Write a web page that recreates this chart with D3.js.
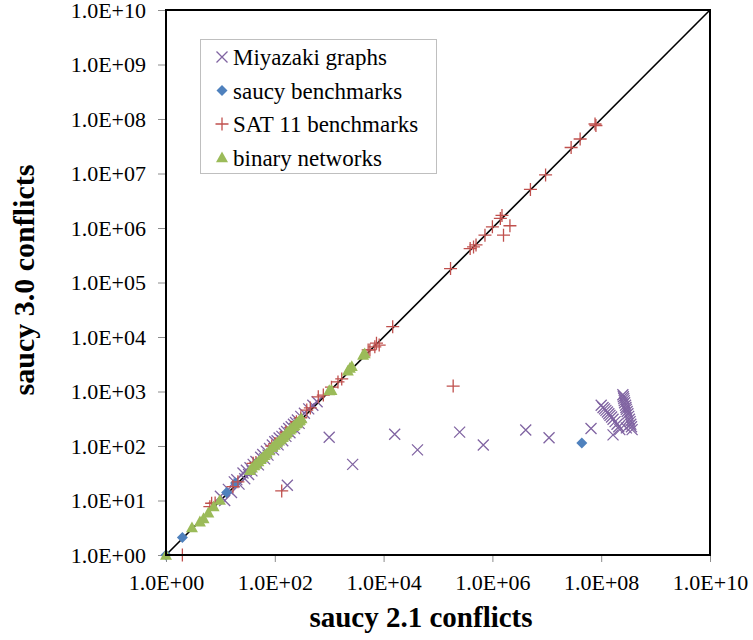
<!DOCTYPE html>
<html><head><meta charset="utf-8">
<script src="https://cdn.jsdelivr.net/npm/d3@7"></script>
<style>body{margin:0;background:#fff}svg{display:block}</style>
</head><body><svg id="c" width="753" height="640"></svg>
<script>
// ---- data ----
const seriesNames = ["Miyazaki graphs", "saucy benchmarks", "SAT 11 benchmarks", "binary networks"];
const xTickValues = [1, 1e2, 1e4, 1e6, 1e8, 1e10];
const yTickValues = [1, 1e1, 1e2, 1e3, 1e4, 1e5, 1e6, 1e7, 1e8, 1e9, 1e10];
const xTitle = "saucy 2.1 conflicts";
const yTitle = "saucy 3.0 conflicts";

const miyazaki = [
  [10,12],[12,10],[14,16],[16,14],[18,22],[20,24],[22,20],[26,32],[28,25],[30,36],[33,30],[35,40],[38,35],[40,46],[45,52],[50,45],[55,62],[60,70],[65,58],[70,80],[75,68],[80,90],[90,104],[95,85],[100,120],[110,125],[115,105],[120,140],[135,150],[140,125],[150,170],[160,150],[165,185],[180,210],[190,175],[200,225],[220,250],[230,210],[240,270],[260,300],[280,260],[300,350],[350,400],[420,480],[500,560],[600,650],
  [170,19],[1.0e3,145],[2.7e3,46],[1.6e4,164],[4.2e4,85],[2.5e5,180],[6.8e5,104],[4.1e6,196],[1.1e7,142],[6.5e7,210],
  [1.0e8,560],[1.08e8,510],[1.15e8,480],[1.22e8,450],[1.3e8,420],[1.38e8,390],[1.45e8,365],[1.55e8,340],[1.65e8,310],[1.8e8,280],[1.95e8,250],[2.1e8,225],[2.2e8,200],[1.65e8,160],
  [2.5e8,870],[2.55e8,800],[2.6e8,740],[2.65e8,680],[2.7e8,620],[2.8e8,560],[2.85e8,510],[2.9e8,470],[3.0e8,430],[3.1e8,390],[3.2e8,350],[3.3e8,310],[3.4e8,280],[3.5e8,250],[3.6e8,225],[3.7e8,200],[2.9e8,215]
];
const saucy = [[1,1],[2,2.1],[13,14],[19,21],[47,50],[4.4e7,114]];
const sat11 = [
  [2,1],[6.4,7.7],[6.9,8.9],[8,9],[17,18],[21,22],[40,48],[45,50],[88,100],[100,110],[130,140],[160,180],[200,220],[250,280],[300,330],[387,457],[450,500],[134,15],
  [630,800],[780,860],[1.1e3,1.2e3],[1.45e3,1.5e3],[1.7e3,1.7e3],[5.2e3,5.8e3],[5.6e3,5.8e3],[6.9e3,6.6e3],[7.4e3,7.7e3],[8.3e3,7.1e3],[1.47e4,1.55e4],[1.9e5,1.26e3],
  [1.7e5,1.8e5],[3.9e5,4.2e5],[4.5e5,4.5e5],[5e5,4.9e5],[7.3e5,7.4e5],[1.0e6,1.05e6],[1.4e6,1.5e6],[1.5e6,1.7e6],[1.6e6,7.4e5],[2.1e6,1.1e6],[5.0e6,5.1e6],[9.5e6,9.4e6],[2.8e7,3.0e7],[4.1e7,4.3e7],[7.7e7,8.1e7],[8e7,7.6e7]
];
const binary = [
  [1,1],[3,3.2],[4.2,4.1],[4.9,4.7],[6,6],[7.5,7.8],[9.8,10.2],[35,36],[38,40],[42,44],[45,47],[50,52],[55,57],[60,62],[65,68],[71,73],[80,83],[90,95],[100,105],[110,115],[120,125],[130,135],[140,145],[150,155],[160,168],[170,180],[190,200],[200,210],[220,230],[230,240],[250,260],[260,270],[280,290],[290,300],[310,320],
  [1.0e3,1.05e3],[1.1e3,1.06e3],[2.2e3,2.4e3],[2.4e3,2.7e3],[2.6e3,2.9e3],[4.2e3,4.7e3],[4.5e3,5e3]
];

// ---- layout ----
const L = 166, R = 710, T = 10, B = 555;
const svg = d3.select("#c");
const x = d3.scaleLog().domain([1, 1e10]).range([L, R]);
const y = d3.scaleLog().domain([1, 1e10]).range([B, T]);
const fmt = v => { const e = Math.round(Math.log10(v)); return "1.0E+" + String(e).padStart(2, "0"); };
const serif = '"Liberation Serif", "Times New Roman", Times, serif';

const gx = svg.append("g").attr("transform", `translate(0,${B})`)
  .call(d3.axisBottom(x).tickValues(xTickValues).tickFormat(fmt).tickSize(7).tickPadding(12));
const gy = svg.append("g").attr("transform", `translate(${L},0)`)
  .call(d3.axisLeft(y).tickValues(yTickValues).tickFormat(fmt).tickSize(8).tickPadding(12));
[gx, gy].forEach(g => {
  g.attr("font-family", serif).attr("font-size", 22);
  g.select(".domain").remove();
  g.selectAll(".tick line").attr("stroke", "#8c8c8c").attr("stroke-width", 1);
  g.selectAll(".tick text").attr("fill", "#000").style("font-family", serif).style("font-size", "22px");
});

// diagonal
svg.append("line").attr("x1", x(1)).attr("y1", y(1)).attr("x2", x(1e10)).attr("y2", y(1e10))
  .attr("stroke", "#000").attr("stroke-width", 1.6);

// markers
const colors = { mi: "#8064A2", sa: "#4F81BD", sat: "#C0504D", bi: "#9BBB59" };
function drawX(g, cx, cy) {
  const s = 5.5;
  g.append("path").attr("d", `M${cx-s},${cy-s}L${cx+s},${cy+s}M${cx-s},${cy+s}L${cx+s},${cy-s}`)
    .attr("stroke", colors.mi).attr("stroke-width", 1.3).attr("fill", "none");
}
function drawPlus(g, cx, cy) {
  const s = 6.5;
  g.append("path").attr("d", `M${cx-s},${cy}L${cx+s},${cy}M${cx},${cy-s}L${cx},${cy+s}`)
    .attr("stroke", colors.sat).attr("stroke-width", 1.3).attr("fill", "none");
}
function drawDiamond(g, cx, cy) {
  const s = 5.5;
  g.append("path").attr("d", `M${cx},${cy-s}L${cx+s},${cy}L${cx},${cy+s}L${cx-s},${cy}Z`).attr("fill", colors.sa);
}
function drawTri(g, cx, cy) {
  const s = 6;
  g.append("path").attr("d", `M${cx},${cy-s}L${cx+s},${cy+s*0.8}L${cx-s},${cy+s*0.8}Z`).attr("fill", colors.bi);
}
const pg = svg.append("g");
const gm = pg.append("g"), gs = pg.append("g"), gt = pg.append("g"), gb = pg.append("g");
miyazaki.forEach(d => drawX(gm, x(d[0]), y(d[1])));
saucy.forEach(d => drawDiamond(gs, x(d[0]), y(d[1])));
sat11.forEach(d => drawPlus(gt, x(d[0]), y(d[1])));
binary.forEach(d => drawTri(gb, x(d[0]), y(d[1])));

// frame
svg.append("rect").attr("x", L).attr("y", T).attr("width", R - L).attr("height", B - T)
  .attr("fill", "none").attr("stroke", "#000").attr("stroke-width", 2);

// legend
const lg = svg.append("g");
lg.append("rect").attr("x", 200.5).attr("y", 39.5).attr("width", 236).attr("height", 134)
  .attr("fill", "#fff").attr("stroke", "#bfbfbf").attr("stroke-width", 1);
const drawers = [drawX, drawDiamond, drawPlus, drawTri];
seriesNames.forEach((n, i) => {
  const cy = 57 + i * 33.5;
  drawers[i](lg, 222, cy);
  lg.append("text").attr("x", 233).attr("y", cy).attr("dy", "0.35em").text(n)
    .attr("font-family", serif).style("font-family", serif).style("font-size", "23px").attr("fill", "#000");
});

// titles
svg.append("text").attr("x", 421).attr("y", 627).attr("text-anchor", "middle").text(xTitle)
  .attr("font-family", serif).style("font-family", serif).style("font-size", "29px").style("font-weight", "bold");
svg.append("text").attr("transform", "translate(34,280) rotate(-90)").attr("text-anchor", "middle").text(yTitle)
  .attr("font-family", serif).style("font-family", serif).style("font-size", "30px").style("font-weight", "bold");
</script></body></html>
